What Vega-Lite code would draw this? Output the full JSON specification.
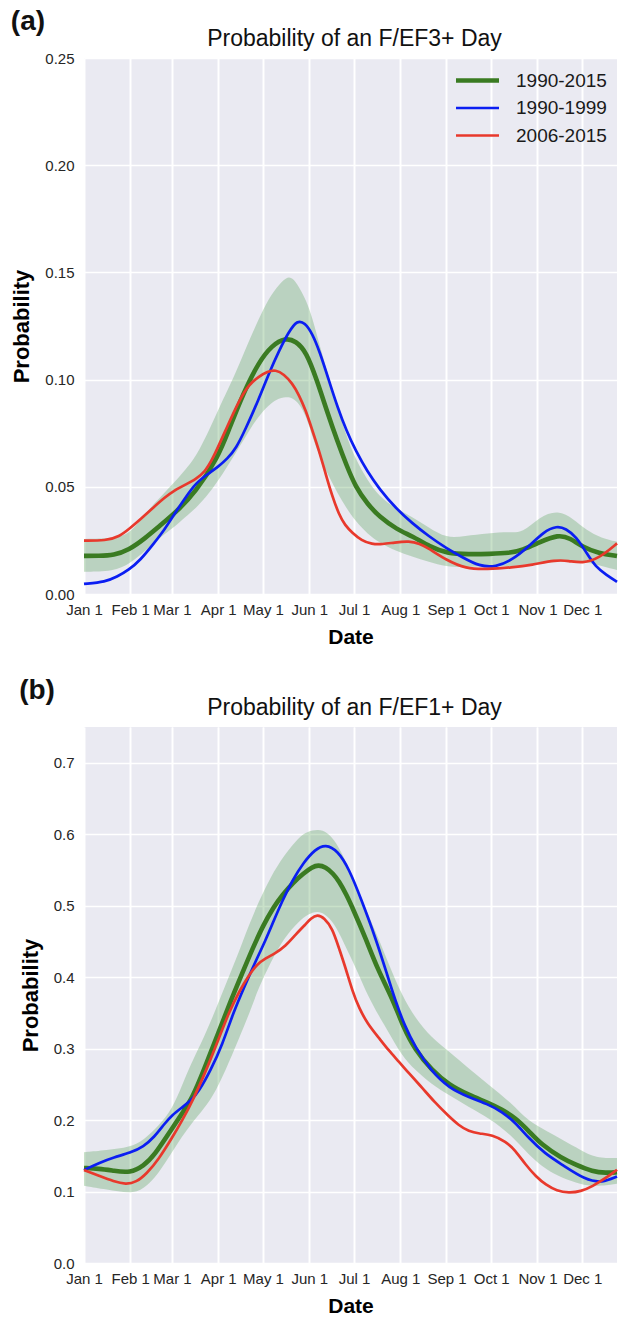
{
  "$schema": "https://vega.github.io/schema/vega-lite/v6.json",
  "background": "white",
  "padding": {"left": 10, "top": 8, "right": 0, "bottom": 0},
  "config": {
    "font": "Liberation Sans",
    "view": {"fill": "#EAEAF2", "stroke": null},
    "axis": {"grid": true, "gridColor": "white", "gridWidth": 1.6, "domain": false, "ticks": false, "labelFontSize": 15, "labelColor": "#262626", "titleFontSize": 22, "titleFontWeight": "bold", "titleColor": "#000000", "labelFont": "Liberation Sans", "titleFont": "Liberation Sans"},
    "legend": {"orient": "top-right", "offset": 10, "labelFontSize": 19, "labelColor": "#1a1a1a", "symbolType": "M-2.15,0H2.15", "symbolSize": 400, "labelOffset": 26, "rowPadding": 5.5, "padding": 0},
    "title": {"font": "Liberation Sans"},
    "concat": {"spacing": 30}
  },
  "datasets": {
    "aLines": [
      {"s":"1990-2015","d":0,"p":0.0178},{"s":"1990-2015","d":10,"p":0.0178},{"s":"1990-2015","d":20,"p":0.0181},{"s":"1990-2015","d":30,"p":0.0205},{"s":"1990-2015","d":41,"p":0.026},{"s":"1990-2015","d":51,"p":0.032},{"s":"1990-2015","d":61,"p":0.0377},{"s":"1990-2015","d":75,"p":0.0476},{"s":"1990-2015","d":90,"p":0.064},{"s":"1990-2015","d":97,"p":0.0765},{"s":"1990-2015","d":107,"p":0.094},{"s":"1990-2015","d":117,"p":0.108},{"s":"1990-2015","d":126,"p":0.116},{"s":"1990-2015","d":135,"p":0.1195},{"s":"1990-2015","d":142,"p":0.118},{"s":"1990-2015","d":149,"p":0.113},{"s":"1990-2015","d":156,"p":0.1},{"s":"1990-2015","d":163,"p":0.085},{"s":"1990-2015","d":170,"p":0.071},{"s":"1990-2015","d":176,"p":0.06},{"s":"1990-2015","d":182,"p":0.05},{"s":"1990-2015","d":190,"p":0.042},{"s":"1990-2015","d":198,"p":0.036},{"s":"1990-2015","d":210,"p":0.03},{"s":"1990-2015","d":220,"p":0.027},{"s":"1990-2015","d":232,"p":0.022},{"s":"1990-2015","d":243,"p":0.019},{"s":"1990-2015","d":258,"p":0.0185},{"s":"1990-2015","d":272,"p":0.0187},{"s":"1990-2015","d":285,"p":0.019},{"s":"1990-2015","d":294,"p":0.0205},{"s":"1990-2015","d":305,"p":0.024},{"s":"1990-2015","d":318,"p":0.0278},{"s":"1990-2015","d":326,"p":0.026},{"s":"1990-2015","d":334,"p":0.022},{"s":"1990-2015","d":345,"p":0.019},{"s":"1990-2015","d":357.3,"p":0.0177},
      {"s":"1990-1999","d":0,"p":0.0047},{"s":"1990-1999","d":14.5,"p":0.0057},{"s":"1990-1999","d":22,"p":0.008},{"s":"1990-1999","d":30,"p":0.0112},{"s":"1990-1999","d":38,"p":0.016},{"s":"1990-1999","d":46,"p":0.0229},{"s":"1990-1999","d":54,"p":0.03},{"s":"1990-1999","d":61,"p":0.0378},{"s":"1990-1999","d":68,"p":0.045},{"s":"1990-1999","d":75,"p":0.0518},{"s":"1990-1999","d":83,"p":0.056},{"s":"1990-1999","d":90,"p":0.0594},{"s":"1990-1999","d":96,"p":0.063},{"s":"1990-1999","d":102,"p":0.068},{"s":"1990-1999","d":108,"p":0.0765},{"s":"1990-1999","d":117,"p":0.0905},{"s":"1990-1999","d":124,"p":0.103},{"s":"1990-1999","d":131,"p":0.1138},{"s":"1990-1999","d":137,"p":0.122},{"s":"1990-1999","d":143,"p":0.1278},{"s":"1990-1999","d":148,"p":0.1265},{"s":"1990-1999","d":153,"p":0.1216},{"s":"1990-1999","d":158,"p":0.113},{"s":"1990-1999","d":164,"p":0.1},{"s":"1990-1999","d":170,"p":0.087},{"s":"1990-1999","d":176,"p":0.076},{"s":"1990-1999","d":182,"p":0.067},{"s":"1990-1999","d":190,"p":0.057},{"s":"1990-1999","d":198,"p":0.049},{"s":"1990-1999","d":209,"p":0.04},{"s":"1990-1999","d":220,"p":0.033},{"s":"1990-1999","d":231,"p":0.027},{"s":"1990-1999","d":243,"p":0.0213},{"s":"1990-1999","d":254,"p":0.017},{"s":"1990-1999","d":265,"p":0.013},{"s":"1990-1999","d":276,"p":0.0125},{"s":"1990-1999","d":287,"p":0.0159},{"s":"1990-1999","d":298,"p":0.022},{"s":"1990-1999","d":308,"p":0.029},{"s":"1990-1999","d":317,"p":0.0318},{"s":"1990-1999","d":323,"p":0.0305},{"s":"1990-1999","d":330,"p":0.0267},{"s":"1990-1999","d":337,"p":0.019},{"s":"1990-1999","d":343,"p":0.0127},{"s":"1990-1999","d":350,"p":0.009},{"s":"1990-1999","d":357.3,"p":0.0057},
      {"s":"2006-2015","d":0,"p":0.0249},{"s":"2006-2015","d":14.6,"p":0.0249},{"s":"2006-2015","d":23.5,"p":0.0267},{"s":"2006-2015","d":31,"p":0.0308},{"s":"2006-2015","d":38,"p":0.035},{"s":"2006-2015","d":46,"p":0.04},{"s":"2006-2015","d":54,"p":0.045},{"s":"2006-2015","d":61,"p":0.0485},{"s":"2006-2015","d":68,"p":0.051},{"s":"2006-2015","d":75,"p":0.0535},{"s":"2006-2015","d":81,"p":0.057},{"s":"2006-2015","d":86,"p":0.0625},{"s":"2006-2015","d":95,"p":0.0765},{"s":"2006-2015","d":104,"p":0.0905},{"s":"2006-2015","d":111,"p":0.098},{"s":"2006-2015","d":117,"p":0.1013},{"s":"2006-2015","d":123,"p":0.1038},{"s":"2006-2015","d":128.5,"p":0.1046},{"s":"2006-2015","d":134,"p":0.1025},{"s":"2006-2015","d":139.6,"p":0.0983},{"s":"2006-2015","d":144,"p":0.093},{"s":"2006-2015","d":148.6,"p":0.0858},{"s":"2006-2015","d":153,"p":0.0765},{"s":"2006-2015","d":157.5,"p":0.067},{"s":"2006-2015","d":162,"p":0.056},{"s":"2006-2015","d":166.5,"p":0.0454},{"s":"2006-2015","d":171,"p":0.037},{"s":"2006-2015","d":175,"p":0.032},{"s":"2006-2015","d":180,"p":0.0285},{"s":"2006-2015","d":186,"p":0.025},{"s":"2006-2015","d":193,"p":0.0232},{"s":"2006-2015","d":200,"p":0.0232},{"s":"2006-2015","d":208,"p":0.024},{"s":"2006-2015","d":218,"p":0.0247},{"s":"2006-2015","d":225,"p":0.0235},{"s":"2006-2015","d":231,"p":0.0213},{"s":"2006-2015","d":242.7,"p":0.0159},{"s":"2006-2015","d":256,"p":0.0118},{"s":"2006-2015","d":270,"p":0.0115},{"s":"2006-2015","d":287,"p":0.0124},{"s":"2006-2015","d":300,"p":0.0135},{"s":"2006-2015","d":316,"p":0.0159},{"s":"2006-2015","d":325,"p":0.0155},{"s":"2006-2015","d":334,"p":0.0143},{"s":"2006-2015","d":345,"p":0.0165},{"s":"2006-2015","d":357.3,"p":0.0236}
    ],
    "aBand": [
      {"d":0,"lo":0.0104,"hi":0.0257},{"d":19.6,"lo":0.0104,"hi":0.026},{"d":31,"lo":0.0143,"hi":0.028},{"d":41,"lo":0.02,"hi":0.0376},{"d":51,"lo":0.0265,"hi":0.045},{"d":61,"lo":0.0314,"hi":0.0524},{"d":68,"lo":0.036,"hi":0.058},{"d":75,"lo":0.04,"hi":0.064},{"d":84,"lo":0.047,"hi":0.0765},{"d":93,"lo":0.056,"hi":0.0905},{"d":101,"lo":0.065,"hi":0.102},{"d":108,"lo":0.073,"hi":0.1138},{"d":115,"lo":0.081,"hi":0.125},{"d":122,"lo":0.087,"hi":0.1356},{"d":129,"lo":0.091,"hi":0.143},{"d":135.6,"lo":0.092,"hi":0.148},{"d":140,"lo":0.0914,"hi":0.1475},{"d":144,"lo":0.089,"hi":0.1433},{"d":149,"lo":0.083,"hi":0.137},{"d":153,"lo":0.0734,"hi":0.129},{"d":158,"lo":0.064,"hi":0.116},{"d":164,"lo":0.055,"hi":0.1013},{"d":170,"lo":0.047,"hi":0.087},{"d":176,"lo":0.04,"hi":0.0734},{"d":182,"lo":0.034,"hi":0.063},{"d":190,"lo":0.028,"hi":0.053},{"d":198,"lo":0.024,"hi":0.0454},{"d":209,"lo":0.02,"hi":0.04},{"d":220,"lo":0.0174,"hi":0.036},{"d":231,"lo":0.015,"hi":0.031},{"d":243,"lo":0.0127,"hi":0.026},{"d":255,"lo":0.0125,"hi":0.027},{"d":271,"lo":0.013,"hi":0.0283},{"d":285,"lo":0.013,"hi":0.029},{"d":294,"lo":0.0135,"hi":0.0283},{"d":305,"lo":0.0145,"hi":0.036},{"d":318,"lo":0.015,"hi":0.0392},{"d":328,"lo":0.0152,"hi":0.035},{"d":336.5,"lo":0.015,"hi":0.0299},{"d":347,"lo":0.013,"hi":0.026},{"d":357.3,"lo":0.0112,"hi":0.0244}
    ],
    "bLines": [
      {"s":"1990-2015","d":0,"p":0.133},{"s":"1990-2015","d":10,"p":0.132},{"s":"1990-2015","d":20,"p":0.129},{"s":"1990-2015","d":31,"p":0.126},{"s":"1990-2015","d":40,"p":0.136},{"s":"1990-2015","d":47,"p":0.15},{"s":"1990-2015","d":59,"p":0.188},{"s":"1990-2015","d":66,"p":0.21},{"s":"1990-2015","d":72.6,"p":0.2308},{"s":"1990-2015","d":80,"p":0.268},{"s":"1990-2015","d":90.5,"p":0.3245},{"s":"1990-2015","d":98,"p":0.365},{"s":"1990-2015","d":106,"p":0.405},{"s":"1990-2015","d":113,"p":0.44},{"s":"1990-2015","d":120,"p":0.472},{"s":"1990-2015","d":127,"p":0.498},{"s":"1990-2015","d":133,"p":0.515},{"s":"1990-2015","d":140,"p":0.532},{"s":"1990-2015","d":147,"p":0.545},{"s":"1990-2015","d":153,"p":0.554},{"s":"1990-2015","d":157,"p":0.557},{"s":"1990-2015","d":162,"p":0.554},{"s":"1990-2015","d":167,"p":0.545},{"s":"1990-2015","d":171,"p":0.534},{"s":"1990-2015","d":176,"p":0.515},{"s":"1990-2015","d":180,"p":0.497},{"s":"1990-2015","d":188.8,"p":0.4545},{"s":"1990-2015","d":197,"p":0.41},{"s":"1990-2015","d":206.7,"p":0.3706},{"s":"1990-2015","d":214,"p":0.33},{"s":"1990-2015","d":222,"p":0.298},{"s":"1990-2015","d":233,"p":0.27},{"s":"1990-2015","d":244.7,"p":0.249},{"s":"1990-2015","d":258,"p":0.235},{"s":"1990-2015","d":271.5,"p":0.2238},{"s":"1990-2015","d":280,"p":0.215},{"s":"1990-2015","d":289.4,"p":0.2028},{"s":"1990-2015","d":298,"p":0.185},{"s":"1990-2015","d":307,"p":0.165},{"s":"1990-2015","d":320,"p":0.147},{"s":"1990-2015","d":330,"p":0.137},{"s":"1990-2015","d":340.8,"p":0.128},{"s":"1990-2015","d":350,"p":0.126},{"s":"1990-2015","d":357.3,"p":0.127},
      {"s":"1990-1999","d":0,"p":0.13},{"s":"1990-1999","d":10,"p":0.14},{"s":"1990-1999","d":20,"p":0.148},{"s":"1990-1999","d":31,"p":0.154},{"s":"1990-1999","d":40,"p":0.163},{"s":"1990-1999","d":47,"p":0.176},{"s":"1990-1999","d":54,"p":0.195},{"s":"1990-1999","d":59,"p":0.207},{"s":"1990-1999","d":66,"p":0.218},{"s":"1990-1999","d":72,"p":0.228},{"s":"1990-1999","d":77,"p":0.24},{"s":"1990-1999","d":85,"p":0.27},{"s":"1990-1999","d":92.7,"p":0.3053},{"s":"1990-1999","d":100,"p":0.35},{"s":"1990-1999","d":108,"p":0.389},{"s":"1990-1999","d":115,"p":0.422},{"s":"1990-1999","d":121.8,"p":0.452},{"s":"1990-1999","d":127,"p":0.478},{"s":"1990-1999","d":133,"p":0.507},{"s":"1990-1999","d":139.6,"p":0.535},{"s":"1990-1999","d":147,"p":0.56},{"s":"1990-1999","d":155,"p":0.579},{"s":"1990-1999","d":162,"p":0.586},{"s":"1990-1999","d":170,"p":0.577},{"s":"1990-1999","d":177.6,"p":0.552},{"s":"1990-1999","d":186,"p":0.508},{"s":"1990-1999","d":195.5,"p":0.4545},{"s":"1990-1999","d":203,"p":0.405},{"s":"1990-1999","d":209,"p":0.365},{"s":"1990-1999","d":215,"p":0.332},{"s":"1990-1999","d":222,"p":0.302},{"s":"1990-1999","d":233,"p":0.268},{"s":"1990-1999","d":244.7,"p":0.2448},{"s":"1990-1999","d":258,"p":0.232},{"s":"1990-1999","d":271.5,"p":0.2214},{"s":"1990-1999","d":280,"p":0.212},{"s":"1990-1999","d":289.4,"p":0.196},{"s":"1990-1999","d":298,"p":0.175},{"s":"1990-1999","d":309,"p":0.153},{"s":"1990-1999","d":320.6,"p":0.1375},{"s":"1990-1999","d":336,"p":0.1165},{"s":"1990-1999","d":347.4,"p":0.112},{"s":"1990-1999","d":357.3,"p":0.121},
      {"s":"2006-2015","d":0,"p":0.13},{"s":"2006-2015","d":10,"p":0.122},{"s":"2006-2015","d":20,"p":0.114},{"s":"2006-2015","d":28,"p":0.11},{"s":"2006-2015","d":35,"p":0.113},{"s":"2006-2015","d":42,"p":0.125},{"s":"2006-2015","d":50,"p":0.145},{"s":"2006-2015","d":59,"p":0.175},{"s":"2006-2015","d":66,"p":0.2},{"s":"2006-2015","d":73.7,"p":0.2308},{"s":"2006-2015","d":82,"p":0.27},{"s":"2006-2015","d":90.5,"p":0.3147},{"s":"2006-2015","d":97,"p":0.35},{"s":"2006-2015","d":104,"p":0.38},{"s":"2006-2015","d":110.6,"p":0.403},{"s":"2006-2015","d":116,"p":0.418},{"s":"2006-2015","d":121.8,"p":0.4266},{"s":"2006-2015","d":128,"p":0.433},{"s":"2006-2015","d":135,"p":0.443},{"s":"2006-2015","d":142,"p":0.46},{"s":"2006-2015","d":148.6,"p":0.474},{"s":"2006-2015","d":152,"p":0.482},{"s":"2006-2015","d":156.4,"p":0.488},{"s":"2006-2015","d":161,"p":0.483},{"s":"2006-2015","d":166.5,"p":0.4685},{"s":"2006-2015","d":171,"p":0.44},{"s":"2006-2015","d":175.4,"p":0.4126},{"s":"2006-2015","d":180,"p":0.38},{"s":"2006-2015","d":184.4,"p":0.3566},{"s":"2006-2015","d":190,"p":0.335},{"s":"2006-2015","d":197.8,"p":0.3147},{"s":"2006-2015","d":204,"p":0.298},{"s":"2006-2015","d":211,"p":0.282},{"s":"2006-2015","d":218,"p":0.265},{"s":"2006-2015","d":226.8,"p":0.245},{"s":"2006-2015","d":235,"p":0.225},{"s":"2006-2015","d":244.7,"p":0.205},{"s":"2006-2015","d":251,"p":0.193},{"s":"2006-2015","d":258,"p":0.184},{"s":"2006-2015","d":265,"p":0.181},{"s":"2006-2015","d":273.7,"p":0.1795},{"s":"2006-2015","d":282.7,"p":0.17},{"s":"2006-2015","d":289,"p":0.158},{"s":"2006-2015","d":296,"p":0.1375},{"s":"2006-2015","d":303,"p":0.121},{"s":"2006-2015","d":309.5,"p":0.1095},{"s":"2006-2015","d":317,"p":0.101},{"s":"2006-2015","d":325,"p":0.098},{"s":"2006-2015","d":333,"p":0.1},{"s":"2006-2015","d":340.8,"p":0.1072},{"s":"2006-2015","d":350,"p":0.119},{"s":"2006-2015","d":357.3,"p":0.1305}
    ],
    "bBand": [
      {"d":0,"lo":0.108,"hi":0.155},{"d":15,"lo":0.103,"hi":0.158},{"d":31,"lo":0.097,"hi":0.162},{"d":40,"lo":0.103,"hi":0.172},{"d":50,"lo":0.125,"hi":0.192},{"d":59,"lo":0.155,"hi":0.215},{"d":66,"lo":0.178,"hi":0.25},{"d":72,"lo":0.195,"hi":0.28},{"d":78,"lo":0.21,"hi":0.305},{"d":86,"lo":0.2308,"hi":0.3427},{"d":95,"lo":0.27,"hi":0.39},{"d":104,"lo":0.3147,"hi":0.436},{"d":111,"lo":0.35,"hi":0.475},{"d":117,"lo":0.385,"hi":0.505},{"d":125,"lo":0.42,"hi":0.54},{"d":134,"lo":0.455,"hi":0.57},{"d":144,"lo":0.478,"hi":0.596},{"d":150,"lo":0.488,"hi":0.604},{"d":157,"lo":0.493,"hi":0.607},{"d":163,"lo":0.486,"hi":0.603},{"d":168.7,"lo":0.472,"hi":0.59},{"d":176,"lo":0.44,"hi":0.56},{"d":184,"lo":0.405,"hi":0.52},{"d":190,"lo":0.375,"hi":0.49},{"d":197.8,"lo":0.345,"hi":0.452},{"d":204.5,"lo":0.322,"hi":0.417},{"d":213,"lo":0.29,"hi":0.375},{"d":222,"lo":0.27,"hi":0.3427},{"d":233,"lo":0.25,"hi":0.315},{"d":244.7,"lo":0.235,"hi":0.296},{"d":258,"lo":0.218,"hi":0.272},{"d":271.5,"lo":0.203,"hi":0.249},{"d":286,"lo":0.18,"hi":0.225},{"d":298,"lo":0.1515,"hi":0.198},{"d":310,"lo":0.13,"hi":0.185},{"d":320.6,"lo":0.119,"hi":0.1725},{"d":333,"lo":0.11,"hi":0.158},{"d":343,"lo":0.107,"hi":0.147},{"d":357.3,"lo":0.111,"hi":0.147}
    ]
  },
  "vconcat": [
    {
      "width": 533,
      "height": 536,
      "title": {"text": "(a)", "anchor": "start", "frame": "bounds", "fontSize": 28, "fontWeight": "bold", "color": "#111111", "offset": -9},
      "resolve": {"axis": {"x": "independent"}},
      "layer": [
        {
          "data": {"name": "aBand"},
          "mark": {"type": "area", "color": "#4c9a4c", "opacity": 0.3, "interpolate": "basis"},
          "encoding": {
            "x": {"field": "d", "type": "quantitative", "scale": {"domain": [0, 357.3], "nice": false, "zero": false},
                  "axis": {"orient": "top", "values": [0, 31, 59, 90, 120, 151, 181, 212, 243, 273, 304, 334], "labels": false, "grid": true, "title": "Probability of an F/EF3+ Day", "titleFontWeight": "normal", "titleFontSize": 23, "titleColor": "#111111", "titlePadding": 8, "titleX": 270}},
            "y": {"field": "lo", "type": "quantitative", "scale": {"domain": [0, 0.25], "nice": false},
                  "axis": {"values": [0, 0.05, 0.1, 0.15, 0.2, 0.25], "format": ".2f", "title": "Probability", "labelPadding": 10, "titlePadding": 11}},
            "y2": {"field": "hi"}
          }
        },
        {
          "data": {"name": "aLines"},
          "mark": {"type": "line", "interpolate": "basis"},
          "encoding": {
            "x": {"field": "d", "type": "quantitative", "scale": {"domain": [0, 357.3], "nice": false, "zero": false},
                  "axis": {"orient": "bottom", "grid": true, "values": [0, 31, 59, 90, 120, 151, 181, 212, 243, 273, 304, 334], "labelExpr": "['Jan 1','Feb 1','Mar 1','Apr 1','May 1','Jun 1','Jul 1','Aug 1','Sep 1','Oct 1','Nov 1','Dec 1'][indexof([0,31,59,90,120,151,181,212,243,273,304,334], datum.value)]", "title": "Date", "titleFontSize": 21, "labelPadding": 8, "titlePadding": 9, "labelOverlap": false, "labelFlush": false}},
            "y": {"field": "p", "type": "quantitative", "scale": {"domain": [0, 0.25], "nice": false},
                  "axis": {"values": [0, 0.05, 0.1, 0.15, 0.2, 0.25], "format": ".2f", "title": "Probability", "labelPadding": 10, "titlePadding": 11}},
            "color": {"field": "s", "type": "nominal", "scale": {"domain": ["1990-2015", "1990-1999", "2006-2015"], "range": ["#3a7b22", "#0b1ef2", "#e8392c"]}, "legend": {"title": null}},
            "strokeWidth": {"field": "s", "type": "nominal", "scale": {"type": "ordinal", "domain": ["1990-2015", "1990-1999", "2006-2015"], "range": [4.6, 2.7, 2.7]}, "legend": {"title": null}}
          }
        }
      ]
    },
    {
      "width": 533,
      "height": 536,
      "title": {"text": "(b)", "anchor": "start", "frame": "bounds", "fontSize": 28, "fontWeight": "bold", "color": "#111111", "offset": -9},
      "resolve": {"axis": {"x": "independent"}},
      "layer": [
        {
          "data": {"name": "bBand"},
          "mark": {"type": "area", "color": "#4c9a4c", "opacity": 0.3, "interpolate": "basis"},
          "encoding": {
            "x": {"field": "d", "type": "quantitative", "scale": {"domain": [0, 357.3], "nice": false, "zero": false},
                  "axis": {"orient": "top", "values": [0, 31, 59, 90, 120, 151, 181, 212, 243, 273, 304, 334], "labels": false, "grid": true, "title": "Probability of an F/EF1+ Day", "titleFontWeight": "normal", "titleFontSize": 23, "titleColor": "#111111", "titlePadding": 8, "titleX": 270}},
            "y": {"field": "lo", "type": "quantitative", "scale": {"domain": [0, 0.75], "nice": false},
                  "axis": {"values": [0, 0.1, 0.2, 0.3, 0.4, 0.5, 0.6, 0.7], "format": ".1f", "title": "Probability", "labelPadding": 10, "titlePadding": 11}},
            "y2": {"field": "hi"}
          }
        },
        {
          "data": {"name": "bLines"},
          "mark": {"type": "line", "interpolate": "basis"},
          "encoding": {
            "x": {"field": "d", "type": "quantitative", "scale": {"domain": [0, 357.3], "nice": false, "zero": false},
                  "axis": {"orient": "bottom", "grid": true, "values": [0, 31, 59, 90, 120, 151, 181, 212, 243, 273, 304, 334], "labelExpr": "['Jan 1','Feb 1','Mar 1','Apr 1','May 1','Jun 1','Jul 1','Aug 1','Sep 1','Oct 1','Nov 1','Dec 1'][indexof([0,31,59,90,120,151,181,212,243,273,304,334], datum.value)]", "title": "Date", "titleFontSize": 21, "labelPadding": 8, "titlePadding": 9, "labelOverlap": false, "labelFlush": false}},
            "y": {"field": "p", "type": "quantitative", "scale": {"domain": [0, 0.75], "nice": false},
                  "axis": {"values": [0, 0.1, 0.2, 0.3, 0.4, 0.5, 0.6, 0.7], "format": ".1f", "title": "Probability", "labelPadding": 10, "titlePadding": 11}},
            "color": {"field": "s", "type": "nominal", "scale": {"domain": ["1990-2015", "1990-1999", "2006-2015"], "range": ["#3a7b22", "#0b1ef2", "#e8392c"]}, "legend": {"title": null}},
            "strokeWidth": {"field": "s", "type": "nominal", "scale": {"type": "ordinal", "domain": ["1990-2015", "1990-1999", "2006-2015"], "range": [4.6, 2.7, 2.7]}, "legend": {"title": null}}
          }
        }
      ]
    }
  ]
}
